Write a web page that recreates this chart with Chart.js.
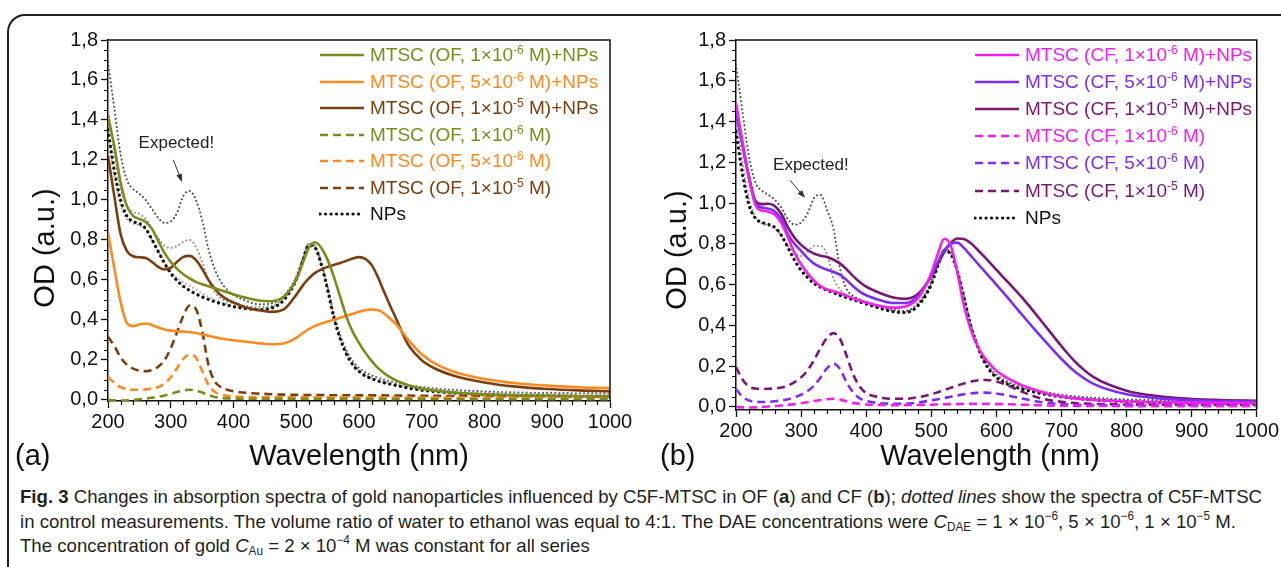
<!DOCTYPE html>
<html>
<head>
<meta charset="utf-8">
<script src="https://cdn.jsdelivr.net/npm/chart.js@4.4.1/dist/chart.umd.min.js"></script>
<style>
  html, body { margin: 0; padding: 0; background: #fff; }
  body { width: 1281px; height: 567px; overflow: hidden; position: relative; font-family: 'Liberation Sans', Arial, sans-serif; }
  #frame { position: absolute; left: 7px; top: 14px; width: 1400px; height: 700px;
    border-top: 2.5px solid #231f20; border-left: 2.5px solid #231f20; border-top-left-radius: 18px; }
  canvas { position: absolute; }
  .lg-row { position: absolute; height: 22px; display: flex; align-items: center; white-space: nowrap; font-size: 19px; }
  .lg-row svg { margin-right: 5px; flex: none; }
  .lg-row sup { font-size: 12px; vertical-align: 7px; line-height: 0; }
  .title { position: absolute; font-size: 29px; color: #111; white-space: nowrap; line-height: 32px; }
  .ytitle { position: absolute; font-size: 29px; color: #111; white-space: nowrap; line-height: 32px; transform: translate(-50%, -50%) rotate(-90deg); }
  .cap-line { position: absolute; left: 20px; font-family: 'Liberation Sans Narrow', 'Liberation Sans', Arial, sans-serif;
    font-size: 19px; line-height: 22px; color: #231f20; white-space: nowrap; transform-origin: 0 50%; }
  .cap-line sub { font-size: 12px; vertical-align: -3px; line-height: 0; }
  .cap-line sup { font-size: 12px; vertical-align: 8px; line-height: 0; }
</style>
</head>
<body>
<div id="frame"></div>
<canvas id="chart-a" width="640" height="440" style="left:0;top:0"></canvas>
<canvas id="chart-b" width="641" height="445" style="left:640px;top:0"></canvas>
<div id="legend-a"></div>
<div id="legend-b"></div>

<div class="ytitle" style="left:44px;top:248px">OD (a.u.)</div>
<div class="ytitle" style="left:676px;top:250px">OD (a.u.)</div>
<div class="title" style="left:15px;top:439px">(a)</div>
<div class="title" style="left:660px;top:439px">(b)</div>
<div class="title" style="left:359px;top:439px;transform:translateX(-50%)">Wavelength (nm)</div>
<div class="title" style="left:990px;top:439px;transform:translateX(-50%)">Wavelength (nm)</div>

<div class="cap-line" style="top:486px"><b>Fig. 3</b> Changes in absorption spectra of gold nanoparticles influenced by C5F-MTSC in OF (<b>a</b>) and CF (<b>b</b>); <i>dotted lines</i> show the spectra of C5F-MTSC</div>
<div class="cap-line" style="top:511px">in control measurements. The volume ratio of water to ethanol was equal to 4:1. The DAE concentrations were <i>C</i><sub>DAE</sub> = 1 × 10<sup>−6</sup>, 5 × 10<sup>−6</sup>, 1 × 10<sup>−5</sup> M.</div>
<div class="cap-line" style="top:535px">The concentration of gold <i>C</i><sub>Au</sub> = 2 × 10<sup>−4</sup> M was constant for all series</div>

<script>
// ============================================================
// Data
// ============================================================

const WAVELENGTH = [200,210,220,230,240,250,260,270,280,290,300,310,320,330,340,350,360,370,380,390,400,
  420,440,460,480,500,
  510,520,530,540,550,560,570,580,590,600,610,620,630,640,650,660,670,680,
  700,720,750,800,850,900,950,1000];

const X_TICKS = [200,300,400,500,600,700,800,900,1000];
const Y_TICKS = [0,0.2,0.4,0.6,0.8,1.0,1.2,1.4,1.6,1.8];

// panel (a) - OF
const OF_1E6_NP = [1.42,1.27,1.09,0.97,0.92,0.905,0.89,0.855,0.795,0.735,0.69,0.655,0.628,0.607,0.59,0.578,0.568,0.558,0.548,0.538,0.528,
  0.51,0.497,0.493,0.515,0.6,
  0.68,0.76,0.788,0.76,0.7,0.615,0.515,0.415,0.34,0.285,0.236,0.195,0.16,0.133,0.112,0.096,0.083,0.072,
  0.056,0.046,0.036,0.027,0.022,0.02,0.018,0.017];
const OF_5E6_NP = [0.835,0.66,0.49,0.385,0.368,0.377,0.382,0.374,0.362,0.352,0.346,0.343,0.341,0.339,0.334,0.327,0.32,0.313,0.307,0.302,0.298,
  0.29,0.283,0.278,0.282,0.31,
  0.333,0.353,0.37,0.382,0.392,0.4,0.41,0.42,0.43,0.44,0.448,0.452,0.449,0.432,0.405,0.375,0.335,0.295,
  0.228,0.183,0.142,0.104,0.083,0.071,0.063,0.058];
const OF_1E5_NP = [1.22,1.02,0.83,0.745,0.718,0.713,0.71,0.69,0.665,0.652,0.66,0.69,0.715,0.72,0.7,0.655,0.6,0.557,0.523,0.502,0.487,
  0.462,0.448,0.44,0.452,0.525,
  0.57,0.607,0.635,0.652,0.665,0.675,0.684,0.695,0.707,0.714,0.705,0.675,0.615,0.54,0.468,0.4,0.328,0.268,
  0.198,0.158,0.122,0.087,0.066,0.054,0.047,0.043];
const OF_1E6 = [0,-0.003,-0.004,-0.003,0,0.003,0.006,0.01,0.015,0.022,0.03,0.039,0.047,0.05,0.047,0.037,0.024,0.014,0.009,0.007,0.006,
  0.005,0.005,0.005,0.005,0.005,
  0.005,0.005,0.005,0.005,0.005,0.005,0.005,0.005,0.005,0.005,0.004,0.004,0.004,0.004,0.004,0.004,0.004,0.004,
  0.004,0.004,0.003,0.003,0.003,0.003,0.003,0.003];
const OF_5E6 = [0.113,0.085,0.063,0.053,0.05,0.05,0.052,0.056,0.064,0.08,0.113,0.158,0.205,0.226,0.212,0.145,0.075,0.04,0.026,0.02,0.017,
  0.014,0.013,0.012,0.012,0.012,
  0.012,0.012,0.012,0.012,0.012,0.012,0.012,0.012,0.012,0.012,0.011,0.011,0.011,0.011,0.011,0.011,0.011,0.011,
  0.011,0.011,0.011,0.01,0.01,0.01,0.01,0.01];
const OF_1E5 = [0.315,0.27,0.212,0.176,0.156,0.146,0.143,0.148,0.165,0.198,0.258,0.338,0.42,0.472,0.455,0.345,0.175,0.093,0.063,0.05,0.043,
  0.035,0.031,0.028,0.026,0.025,
  0.024,0.024,0.024,0.024,0.023,0.023,0.023,0.023,0.023,0.022,0.022,0.022,0.022,0.022,0.021,0.021,0.021,0.021,
  0.02,0.02,0.019,0.019,0.018,0.018,0.017,0.017];
const NPS_A = [1.35,1.15,1.0,0.92,0.892,0.882,0.857,0.802,0.742,0.684,0.633,0.597,0.568,0.547,0.53,0.515,0.502,0.491,0.481,0.473,0.466,
  0.456,0.451,0.458,0.498,0.6,
  0.69,0.772,0.76,0.675,0.55,0.41,0.305,0.228,0.175,0.142,0.12,0.106,0.094,0.085,0.078,0.071,0.064,0.058,
  0.048,0.041,0.034,0.026,0.022,0.02,0.018,0.017];
const EXP_OF_1E6 = [1.3,1.12,0.975,0.905,0.88,0.872,0.85,0.8,0.745,0.69,0.643,0.61,0.588,0.572,0.552,0.532,0.515,0.5,0.489,0.48,0.472,
  0.461,0.456,0.463,0.503,0.605,
  0.695,0.776,0.764,0.679,0.554,0.414,0.309,0.232,0.179,0.146,0.124,0.11,0.098,0.089,0.082,0.075,0.068,0.062,
  0.052,0.045,0.038,0.03,0.026,0.024,0.022,0.021];
const EXP_OF_5E6 = [1.46,1.24,1.06,0.972,0.94,0.93,0.905,0.86,0.81,0.77,0.76,0.77,0.79,0.8,0.765,0.69,0.6,0.54,0.508,0.492,0.483,
  0.47,0.464,0.47,0.51,0.612,
  0.7,0.783,0.772,0.687,0.562,0.423,0.318,0.241,0.188,0.155,0.133,0.119,0.107,0.098,0.09,0.083,0.076,0.07,
  0.06,0.053,0.046,0.038,0.034,0.032,0.03,0.029];
const EXP_OF_1E5 = [1.69,1.46,1.23,1.1,1.055,1.03,1.0,0.955,0.91,0.885,0.892,0.935,1.02,1.045,1.0,0.9,0.755,0.655,0.59,0.55,0.525,
  0.495,0.478,0.482,0.52,0.615,
  0.705,0.78,0.768,0.685,0.565,0.43,0.325,0.248,0.195,0.16,0.138,0.123,0.111,0.101,0.093,0.086,0.079,0.073,
  0.064,0.057,0.05,0.042,0.037,0.035,0.033,0.032];

// panel (b) - CF
const CF_1E6_NP = [1.49,1.3,1.12,0.99,0.963,0.958,0.943,0.9,0.83,0.755,0.7,0.655,0.62,0.592,0.576,0.567,0.558,0.545,0.533,0.522,0.512,
  0.496,0.487,0.493,0.535,0.655,
  0.75,0.825,0.79,0.66,0.5,0.385,0.305,0.25,0.21,0.178,0.155,0.136,0.12,0.106,0.094,0.083,0.073,0.064,
  0.051,0.042,0.034,0.027,0.023,0.021,0.02,0.02];
const CF_5E6_NP = [1.45,1.28,1.12,1.0,0.978,0.972,0.958,0.92,0.845,0.8,0.765,0.73,0.703,0.686,0.673,0.662,0.648,0.622,0.592,0.566,0.548,
  0.525,0.51,0.51,0.545,0.645,
  0.71,0.77,0.8,0.806,0.78,0.745,0.708,0.672,0.636,0.6,0.563,0.526,0.488,0.45,0.413,0.376,0.34,0.305,
  0.235,0.175,0.112,0.062,0.042,0.033,0.028,0.026];
const CF_1E5_NP = [1.47,1.29,1.13,1.01,0.995,0.997,0.985,0.945,0.88,0.83,0.795,0.77,0.752,0.742,0.735,0.722,0.703,0.675,0.642,0.613,0.59,
  0.56,0.538,0.53,0.555,0.64,
  0.7,0.76,0.805,0.826,0.824,0.805,0.775,0.742,0.708,0.673,0.638,0.605,0.57,0.535,0.497,0.458,0.418,0.378,
  0.298,0.225,0.145,0.08,0.052,0.039,0.033,0.03];
const CF_1E6 = [0,-0.002,-0.003,-0.002,0,0.002,0.004,0.007,0.01,0.014,0.018,0.023,0.029,0.034,0.038,0.04,0.036,0.028,0.02,0.015,0.012,
  0.01,0.009,0.009,0.01,0.011,
  0.012,0.013,0.014,0.014,0.015,0.015,0.015,0.015,0.015,0.014,0.014,0.013,0.012,0.011,0.01,0.009,0.008,0.007,
  0.006,0.005,0.005,0.004,0.004,0.004,0.004,0.004];
const CF_5E6 = [0.088,0.05,0.032,0.026,0.024,0.025,0.028,0.032,0.038,0.048,0.06,0.078,0.105,0.145,0.19,0.212,0.185,0.12,0.072,0.042,0.03,
  0.019,0.016,0.016,0.022,0.032,
  0.038,0.044,0.05,0.056,0.062,0.066,0.069,0.07,0.069,0.066,0.061,0.055,0.048,0.041,0.034,0.028,0.023,0.019,
  0.014,0.011,0.009,0.008,0.007,0.007,0.007,0.007];
const CF_1E5 = [0.195,0.135,0.1,0.09,0.088,0.089,0.091,0.095,0.105,0.122,0.145,0.18,0.23,0.29,0.34,0.362,0.332,0.25,0.16,0.1,0.068,
  0.048,0.04,0.04,0.048,0.062,
  0.072,0.083,0.094,0.105,0.115,0.124,0.13,0.133,0.131,0.125,0.115,0.102,0.088,0.074,0.061,0.05,0.041,0.034,
  0.025,0.019,0.015,0.012,0.011,0.01,0.01,0.01];
const NPS_B = [1.35,1.14,0.99,0.925,0.905,0.895,0.88,0.84,0.78,0.72,0.67,0.635,0.605,0.587,0.572,0.56,0.547,0.536,0.526,0.515,0.505,
  0.485,0.468,0.463,0.498,0.6,
  0.69,0.765,0.75,0.665,0.54,0.405,0.305,0.23,0.178,0.145,0.123,0.108,0.096,0.087,0.079,0.072,0.065,0.059,
  0.049,0.042,0.034,0.026,0.022,0.02,0.018,0.017];
const EXP_CF_5E6 = [1.42,1.2,1.02,0.93,0.9,0.89,0.875,0.84,0.79,0.755,0.74,0.762,0.79,0.79,0.745,0.63,0.575,0.548,0.532,0.52,0.51,
  0.49,0.473,0.468,0.504,0.606,
  0.695,0.768,0.754,0.67,0.546,0.412,0.312,0.237,0.185,0.152,0.13,0.114,0.102,0.092,0.084,0.077,0.07,0.064,
  0.054,0.047,0.039,0.031,0.027,0.025,0.023,0.022];
const EXP_CF_1E5 = [1.68,1.45,1.23,1.1,1.06,1.04,1.015,0.975,0.92,0.895,0.905,0.95,1.025,1.04,0.965,0.87,0.675,0.578,0.545,0.528,0.515,
  0.495,0.478,0.472,0.51,0.612,
  0.7,0.772,0.758,0.675,0.552,0.418,0.318,0.243,0.191,0.158,0.136,0.12,0.108,0.098,0.09,0.083,0.076,0.07,
  0.06,0.053,0.045,0.037,0.033,0.031,0.029,0.028];

// ============================================================
// Styles
// ============================================================

const OLIVE = '#7e8a1c', ORANGE = '#fb8a20', BROWN = '#7a3f0e';
const MAGENTA = '#f020ee', VIOLET = '#7b2ef0', PURPLE = '#7a1772';
const INK = '#111';
const FONT = "'Liberation Sans', Arial, sans-serif";

const STYLES = {
  solid:  { borderWidth: 2.6, borderDash: [], borderCapStyle: 'butt', svgDash: '', svgCap: 'butt' },
  dashed: { borderWidth: 2.6, borderDash: [8, 5], borderCapStyle: 'butt', svgDash: '8 5', svgCap: 'butt' },
  dotted: { borderWidth: 3.2, borderDash: [0.1, 5.4], borderCapStyle: 'round', svgDash: '0.1 5.4', svgCap: 'round' },
  thin:   { borderWidth: 2, borderDash: [0.1, 4], borderCapStyle: 'round' }
};

const lbl = (f, m, e, np) => `MTSC (${f}, ${m}×10<sup>${e}</sup> M)${np ? '+NPs' : ''}`;

const SERIES_A = [
  { label: lbl('OF', 1, '-6', true),  data: OF_1E6_NP, color: OLIVE,  style: 'solid',  legend: true },
  { label: lbl('OF', 5, '-6', true),  data: OF_5E6_NP, color: ORANGE, style: 'solid',  legend: true },
  { label: lbl('OF', 1, '-5', true),  data: OF_1E5_NP, color: BROWN,  style: 'solid',  legend: true },
  { label: lbl('OF', 1, '-6', false), data: OF_1E6,    color: OLIVE,  style: 'dashed', legend: true },
  { label: lbl('OF', 5, '-6', false), data: OF_5E6,    color: ORANGE, style: 'dashed', legend: true },
  { label: lbl('OF', 1, '-5', false), data: OF_1E5,    color: BROWN,  style: 'dashed', legend: true },
  { label: 'NPs', data: NPS_A, color: INK, style: 'dotted', legend: true },
  { label: 'exp1', data: EXP_OF_1E6, color: '#aaa', style: 'thin' },
  { label: 'exp5', data: EXP_OF_5E6, color: '#8c8c8c', style: 'thin' },
  { label: 'exp10', data: EXP_OF_1E5, color: '#4a4a4a', style: 'thin' }
];

const SERIES_B = [
  { label: lbl('CF', 1, '-6', true),  data: CF_1E6_NP, color: MAGENTA, style: 'solid',  legend: true },
  { label: lbl('CF', 5, '-6', true),  data: CF_5E6_NP, color: VIOLET,  style: 'solid',  legend: true },
  { label: lbl('CF', 1, '-5', true),  data: CF_1E5_NP, color: PURPLE,  style: 'solid',  legend: true },
  { label: lbl('CF', 1, '-6', false), data: CF_1E6,    color: MAGENTA, style: 'dashed', legend: true },
  { label: lbl('CF', 5, '-6', false), data: CF_5E6,    color: VIOLET,  style: 'dashed', legend: true },
  { label: lbl('CF', 1, '-5', false), data: CF_1E5,    color: PURPLE,  style: 'dashed', legend: true },
  { label: 'NPs', data: NPS_B, color: INK, style: 'dotted', legend: true },
  { label: 'exp5', data: EXP_CF_5E6, color: '#8c8c8c', style: 'thin' },
  { label: 'exp10', data: EXP_CF_1E5, color: '#4a4a4a', style: 'thin' }
];

// ============================================================
// Plugins
// ============================================================

// frame (top/right), minor ticks, "Expected!" note with arrow
const framePlugin = {
  id: 'frame',
  afterDraw(chart) {
    const { ctx, chartArea: a, scales: { x, y } } = chart;
    const note = chart.options.plugins.frame;
    ctx.save();
    ctx.strokeStyle = INK;
    ctx.lineWidth = 1.5;
    ctx.beginPath();
    ctx.moveTo(a.left, a.top); ctx.lineTo(a.right, a.top); ctx.lineTo(a.right, a.bottom);
    ctx.stroke();

    ctx.lineWidth = 1.2;
    ctx.beginPath();
    for (let v = 220; v < 1000; v += 20) {
      if (v % 100 === 0) continue;
      const px = Math.round(x.getPixelForValue(v)) + 0.5;
      ctx.moveTo(px, a.bottom); ctx.lineTo(px, a.bottom + 4);
    }
    for (let i = 1; i < 36; i++) {
      if (i % 4 === 0) continue;
      const py = Math.round(y.getPixelForValue(i * 0.05)) + 0.5;
      ctx.moveTo(a.left, py); ctx.lineTo(a.left - 4, py);
    }
    ctx.stroke();

    if (note) {
      ctx.fillStyle = '#222';
      ctx.font = '17px ' + FONT;
      ctx.textAlign = 'center';
      ctx.textBaseline = 'middle';
      ctx.fillText('Expected!', x.getPixelForValue(note.text[0]), y.getPixelForValue(note.text[1]));
      const x0 = x.getPixelForValue(note.from[0]), y0 = y.getPixelForValue(note.from[1]);
      const x1 = x.getPixelForValue(note.to[0]), y1 = y.getPixelForValue(note.to[1]);
      const ang = Math.atan2(y1 - y0, x1 - x0);
      ctx.strokeStyle = '#333';
      ctx.lineWidth = 1;
      ctx.beginPath(); ctx.moveTo(x0, y0); ctx.lineTo(x1 - 6 * Math.cos(ang), y1 - 6 * Math.sin(ang)); ctx.stroke();
      ctx.beginPath();
      ctx.moveTo(x1, y1);
      ctx.lineTo(x1 - 8 * Math.cos(ang) + 3 * Math.sin(ang), y1 - 8 * Math.sin(ang) - 3 * Math.cos(ang));
      ctx.lineTo(x1 - 8 * Math.cos(ang) - 3 * Math.sin(ang), y1 - 8 * Math.sin(ang) + 3 * Math.cos(ang));
      ctx.closePath(); ctx.fillStyle = '#333'; ctx.fill();
    }
    ctx.restore();
  }
};

// ============================================================
// Chart builders
// ============================================================

function toDataset(s) {
  const st = STYLES[s.style];
  return {
    label: s.label,
    data: WAVELENGTH.map((w, i) => ({ x: w, y: s.data[i] })),
    borderColor: s.color,
    borderWidth: st.borderWidth,
    borderDash: st.borderDash,
    borderCapStyle: st.borderCapStyle,
    cubicInterpolationMode: 'monotone',
    pointRadius: 0,
    fill: false
  };
}

function renderPanel(canvasId, series, geo) {
  const canvas = document.getElementById(canvasId);
  return new Chart(canvas, {
    type: 'line',
    data: { datasets: series.map(toDataset) },
    plugins: [framePlugin],
    options: {
      responsive: false,
      animation: false,
      devicePixelRatio: 1,
      layout: { padding: { top: 40, right: geo.padRight, left: 0, bottom: 0 } },
      plugins: { legend: { display: false }, tooltip: { enabled: false }, frame: geo.note },
      scales: {
        x: {
          type: 'linear', min: 200, max: 1000,
          afterBuildTicks: ax => { ax.ticks = X_TICKS.map(v => ({ value: v })); },
          afterFit: ax => { ax.height = geo.xHeight; },
          ticks: { font: { family: FONT, size: 20 }, color: INK, padding: 2, maxRotation: 0, autoSkip: false, callback: v => String(v) },
          grid: { drawOnChartArea: false, tickLength: 7, tickColor: INK, tickWidth: 1.3 },
          border: { color: INK, width: 1.5 }
        },
        y: {
          type: 'linear', min: geo.yMin, max: 1.8,
          afterBuildTicks: ax => { ax.ticks = Y_TICKS.map(v => ({ value: v })); },
          afterFit: ax => { ax.width = geo.yWidth; },
          ticks: { font: { family: FONT, size: 20 }, color: INK, padding: 3, callback: v => v.toFixed(1).replace('.', ',') },
          grid: { drawOnChartArea: false, tickLength: 7, tickColor: INK, tickWidth: 1.3 },
          border: { color: INK, width: 1.5 }
        }
      }
    }
  });
}

function buildLegend(boxId, series, left, top, rowH) {
  const box = document.getElementById(boxId);
  series.filter(s => s.legend).forEach((s, i) => {
    const st = STYLES[s.style];
    const row = document.createElement('div');
    row.className = 'lg-row';
    row.style.left = left + 'px';
    row.style.top = (top + i * rowH - 11) + 'px';
    row.innerHTML =
      `<svg width="46" height="8"><line x1="1" y1="4" x2="45" y2="4" stroke="${s.color}" stroke-width="${st.borderWidth}"` +
      ` stroke-dasharray="${st.svgDash}" stroke-linecap="${st.svgCap}"/></svg>` +
      `<span style="color:${s.color}">${s.label}</span>`;
    box.appendChild(row);
  });
}

renderPanel('chart-a', SERIES_A, {
  padRight: 30, xHeight: 39, yWidth: 108, yMin: -0.006,
  note: { text: [309, 1.285], from: [304, 1.2], to: [318, 1.09] }
});
renderPanel('chart-b', SERIES_B, {
  padRight: 24, xHeight: 35, yWidth: 96, yMin: -0.015,
  note: { text: [315, 1.187], from: [283, 1.113], to: [306, 1.025] }
});

buildLegend('legend-a', SERIES_A, 319, 55, 26.5);
buildLegend('legend-b', SERIES_B, 974, 55, 27.1);

// caption: condense to the printed line width
const capLines = document.querySelectorAll('.cap-line');
const capScale = 1242 / capLines[0].getBoundingClientRect().width;
capLines.forEach(l => { l.style.transform = `scaleX(${capScale})`; });
</script>
</body>
</html>
